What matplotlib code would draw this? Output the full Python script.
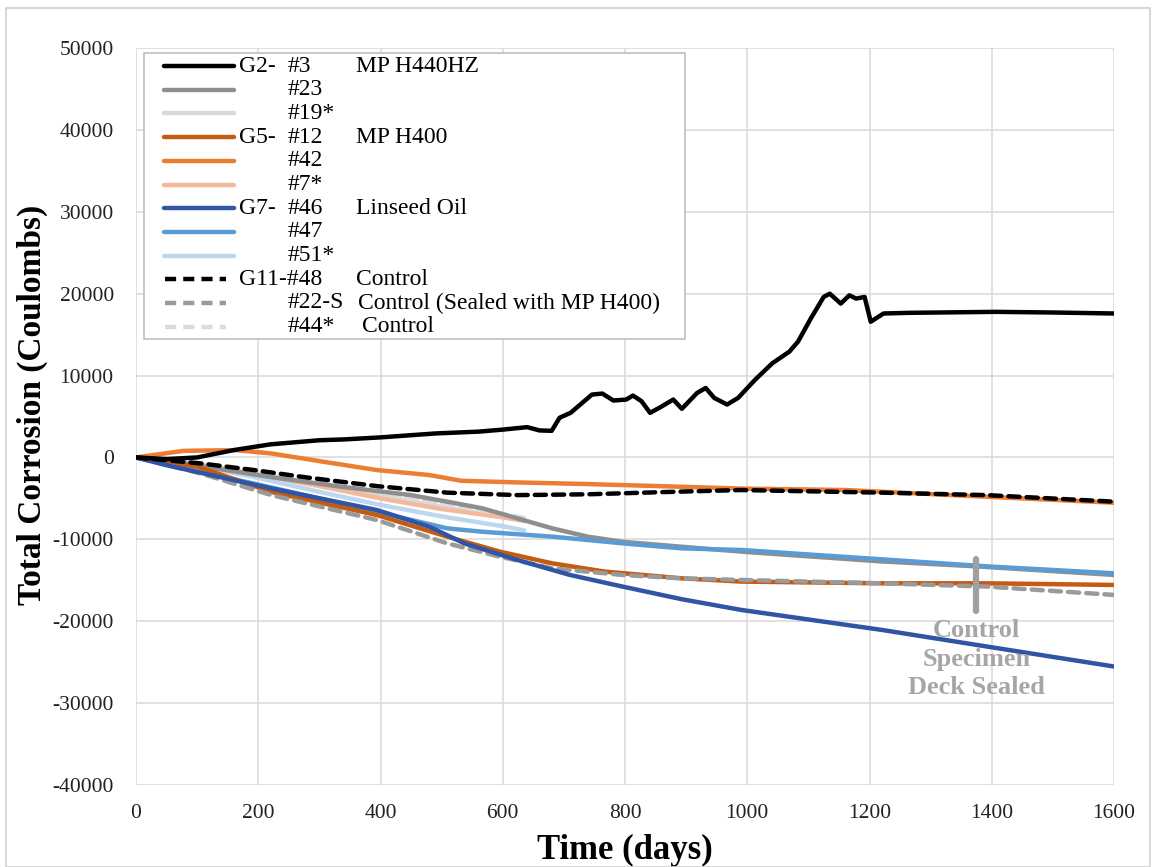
import matplotlib
matplotlib.use("Agg")
import matplotlib.pyplot as plt
from matplotlib.patches import Rectangle

plt.rcParams['font.family'] = ['Liberation Serif', 'DejaVu Serif']
plt.rcParams['axes.unicode_minus'] = False

# ---- data (days, total corrosion in coulombs) ----
g2_3_days = [0, 50, 100, 160, 220, 300, 340, 400, 490, 560, 600, 640, 660, 680, 693, 711,
             746, 763, 781, 802, 813, 827, 841, 858, 879, 893, 918, 932, 946, 967, 985,
             1013, 1041, 1069, 1083, 1104, 1125, 1135, 1153, 1167, 1178, 1192, 1202, 1223,
             1265, 1406, 1500, 1600]
g2_3_vals = [0, -200, 0, 900, 1600, 2100, 2200, 2450, 2930, 3150, 3400, 3700, 3300, 3250,
             4850, 5450, 7680, 7800, 6950, 7070, 7560, 6870, 5450, 6140, 7070, 5940, 7880,
             8480, 7270, 6460, 7270, 9500, 11500, 12930, 14140, 16970, 19600, 20000, 18790,
             19800, 19400, 19600, 16570, 17580, 17660, 17780, 17700, 17580]

g2_23_days = [0, 100, 221, 336, 450, 509, 566, 624, 681, 739, 796, 892, 990, 1220, 1375, 1600]
g2_23_vals = [0, -1000, -2400, -3580, -4600, -5400, -6200, -7440, -8660, -9670, -10300,
              -10900, -11500, -12700, -13300, -14350]

short_days = [0, 100, 200, 300, 400, 500, 600, 635]
g2_19_vals = [0, -800, -2000, -3300, -4700, -6000, -7300, -7800]

g5_12_days = [0, 100, 221, 394, 509, 595, 681, 767, 892, 990, 1220, 1392, 1600]
g5_12_vals = [0, -1100, -4200, -7030, -9670, -11500, -12930, -13940, -14760, -15160,
              -15370, -15370, -15570]

g5_42_days = [0, 78, 164, 221, 307, 394, 480, 532, 624, 739, 892, 990, 1162, 1392, 1600]
g5_42_vals = [0, 810, 890, 490, -530, -1540, -2150, -2850, -3050, -3250, -3580, -3800,
              -3980, -4800, -5530]

g5_7_vals = [0, -900, -2100, -3500, -5000, -6300, -7300, -7700]

g7_46_days = [0, 49, 221, 394, 480, 537, 624, 710, 796, 892, 990, 1220, 1392, 1600]
g7_46_vals = [0, -930, -3780, -6420, -8460, -10490, -12520, -14350, -15770, -17300, -18620,
              -21060, -23090, -25530]

g7_47_days = [0, 49, 221, 394, 509, 566, 681, 796, 892, 990, 1220, 1392, 1600]
g7_47_vals = [0, -800, -3660, -6630, -8660, -9070, -9670, -10490, -11100, -11300, -12440,
              -13300, -14150]

g7_51_vals = [0, -1000, -2500, -4200, -5800, -7200, -8400, -8900]

g11_48_days = [0, 106, 193, 279, 394, 509, 624, 739, 882, 990, 1220, 1392, 1600]
g11_48_vals = [0, -730, -1540, -2440, -3500, -4300, -4600, -4500, -4190, -3980, -4300,
               -4600, -5400]

g11_22s_days = [0, 106, 221, 394, 509, 595, 681, 796, 892, 990, 1220, 1392, 1600]
g11_22s_vals = [0, -1950, -4590, -7640, -10490, -12110, -13540, -14350, -14760, -14960,
                -15370, -15770, -16790]

g11_44_vals = [0, -700, -1800, -3000, -4300, -5600, -6900, -7400]

# legend columns
legend_group = ["G2-", "", "", "G5-", "", "", "G7-", "", "", "G11-#48", "", ""]
legend_id = ["#3", "#23", "#19*", "#12", "#42", "#7*", "#46", "#47", "#51*", "", "#22-S", "#44*"]
legend_desc = ["MP H440HZ", "", "", "MP H400", "", "", "Linseed Oil", "", "",
               "Control", "Control (Sealed with MP H400)", "Control"]

# marker for sealing of the control specimen deck
seal_day = 1375
seal_range = [-12450, -18800]
seal_text = "Control\nSpecimen\nDeck Sealed"

# ---- styles (in legend order) ----
series = [
    (g2_3_days, g2_3_vals, "#000000", "-"),
    (g2_23_days, g2_23_vals, "#8e8e8e", "-"),
    (short_days, g2_19_vals, "#d9d9d9", "-"),
    (g5_12_days, g5_12_vals, "#c55a11", "-"),
    (g5_42_days, g5_42_vals, "#ed7d31", "-"),
    (short_days, g5_7_vals, "#f4b99a", "-"),
    (g7_46_days, g7_46_vals, "#2f55a4", "-"),
    (g7_47_days, g7_47_vals, "#5b9bd5", "-"),
    (short_days, g7_51_vals, "#bdd7ee", "-"),
    (g11_48_days, g11_48_vals, "#000000", "--"),
    (g11_22s_days, g11_22s_vals, "#9a9a9a", "--"),
    (short_days, g11_44_vals, "#dcdcdc", "--"),
]
draw_order = [2, 5, 8, 11, 1, 7, 3, 10, 6, 4, 9, 0]

fig = plt.figure(figsize=(11.53, 8.67), dpi=100)
fig.patches.append(Rectangle((6 / 1153, 0.0), 1 - 9 / 1153, 1 - 8 / 867,
                             transform=fig.transFigure, fill=False,
                             edgecolor="#d0d0d0", linewidth=1.2))
ax = fig.add_axes([136 / 1153, 1 - 785 / 867, 978 / 1153, 737 / 867])

lw = 3.2
for i in draw_order:
    d, v, c, ls = series[i]
    if ls == "--":
        ax.plot(d, v, color=c, linestyle=(0, (2.5, 1.6)), linewidth=lw,
                dash_capstyle="round", solid_capstyle="round")
    else:
        ax.plot(d, v, color=c, linestyle="-", linewidth=lw, solid_capstyle="round")

ax.set_xlim(0, 1600)
ax.set_ylim(-40000, 50000)
ax.set_xticks(range(0, 1601, 200))
ax.set_yticks(range(-40000, 50001, 10000))
ax.grid(True, color="#d9d9d9", linewidth=1.1)
ax.set_axisbelow(True)
for s in ax.spines.values():
    s.set_visible(False)
ax.tick_params(length=0, labelsize=15.5, colors="#222222")
ax.tick_params(axis="y", pad=16)
ax.tick_params(axis="x", pad=14)

ax.set_xlabel("Time (days)", fontsize=25, fontweight="bold")
ax.set_ylabel("Total Corrosion (Coulombs)", fontsize=24, fontweight="bold")
ax.xaxis.set_label_coords((625 - 136) / 978, (785 - 850) / 737)
ax.yaxis.set_label_coords((32 - 136) / 978, (785 - 405) / 737)
ax.xaxis.label.set_va("center")
ax.yaxis.label.set_va("center")

# seal marker and annotation
ax.plot([seal_day, seal_day], seal_range, color="#a0a0a0", linewidth=4.5,
        solid_capstyle="round", zorder=5)
ax.text(seal_day, -19700, seal_text, ha="center", va="top", fontsize=19,
        fontweight="bold", color="#a6a6a6", linespacing=1.32, zorder=6)

# legend box
def fx(px):
    return (px - 136) / 978

def fy(py):
    return (785 - py) / 737

ax.add_patch(Rectangle((fx(144), fy(339)), fx(685) - fx(144), fy(53) - fy(339),
                       transform=ax.transAxes, facecolor="white",
                       edgecolor="#bfbfbf", linewidth=1.2, zorder=8))
row0, step = 66, 23.7
for k, (d, v, c, ls) in enumerate(series):
    y = fy(row0 + k * step)
    if ls == "--":
        ax.plot([fx(165), fx(226)], [y, y], transform=ax.transAxes, color=c,
                linestyle=(0, (2.5, 1.6)), linewidth=lw, zorder=9, clip_on=False)
    else:
        ax.plot([fx(164), fx(234)], [y, y], transform=ax.transAxes, color=c,
                linewidth=lw, zorder=9, clip_on=False, solid_capstyle="round")
    kw = dict(transform=ax.transAxes, va="center", ha="left", fontsize=17, zorder=10)
    if legend_group[k]:
        ax.text(fx(239), y, legend_group[k], **kw)
    if legend_id[k]:
        ax.text(fx(288), y, legend_id[k], **kw)
    if legend_desc[k]:
        xd = 356 if k < 10 else (358 if k == 10 else 362)
        ax.text(fx(xd), y, legend_desc[k], **kw)

fig.savefig("out.png", dpi=100, facecolor="white")
